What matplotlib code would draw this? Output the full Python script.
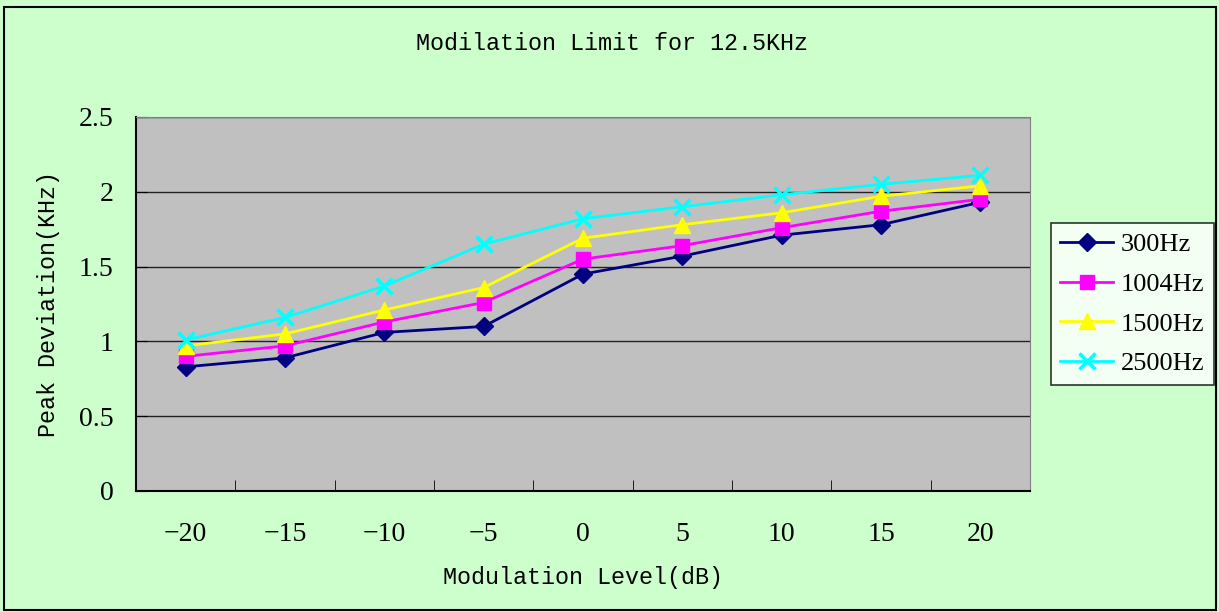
import matplotlib.pyplot as plt
from matplotlib.patches import Rectangle

levels = ["\u221220", "\u221215", "\u221210", "\u22125", "0", "5", "10", "15", "20"]
hz300 = [0.83, 0.89, 1.06, 1.10, 1.45, 1.57, 1.71, 1.78, 1.93]
hz1004 = [0.90, 0.97, 1.13, 1.26, 1.55, 1.64, 1.76, 1.87, 1.95]
hz1500 = [0.97, 1.05, 1.21, 1.36, 1.69, 1.78, 1.86, 1.97, 2.04]
hz2500 = [1.01, 1.16, 1.37, 1.65, 1.82, 1.90, 1.98, 2.05, 2.11]
yticks = [0, 0.5, 1, 1.5, 2, 2.5]

fig = plt.figure(figsize=(12.19, 6.12), dpi=100, facecolor="#CCFFCC")
fig.patches.append(Rectangle((4 / 1219, 2 / 612), 1212 / 1219, 603 / 612,
                             transform=fig.transFigure, fill=False,
                             edgecolor="black", linewidth=1.5))
ax = fig.add_axes([136 / 1219, 121 / 612, 894 / 1219, 374 / 612])
ax.set_facecolor("#C0C0C0")

x = range(len(levels))
ax.plot(x, hz300, color="#000080", marker="D", markersize=9, lw=2, label="300Hz")
ax.plot(x, hz1004, color="#FF00FF", marker="s", markersize=10, lw=2, label="1004Hz")
ax.plot(x, hz1500, color="#FFFF00", marker="^", markersize=12, lw=2, label="1500Hz")
ax.plot(x, hz2500, color="#00FFFF", marker="x", markersize=12, mew=2.5, lw=2, label="2500Hz")

ax.set_xlim(-0.5, len(levels) - 0.5)
ax.set_ylim(0, 2.5)
ax.set_yticks(yticks)
ax.set_yticklabels([("%g" % v) for v in yticks])
ax.yaxis.grid(True, color="#222222", lw=1)
ax.set_axisbelow(True)
ax.set_xticks(list(x))
ax.set_xticklabels(levels)
ax.set_xticks([i - 0.5 for i in range(len(levels) + 1)], minor=True)
ax.tick_params(axis="x", which="major", length=0, pad=22)
ax.tick_params(axis="x", which="minor", direction="in", length=8)
ax.tick_params(axis="y", direction="in", length=8, pad=16)
for lab in ax.get_xticklabels() + ax.get_yticklabels():
    lab.set_fontfamily("Liberation Serif")
    lab.set_fontsize(20)

ax.spines["top"].set_color("#808080")
ax.spines["right"].set_color("#808080")
ax.spines["left"].set_linewidth(1.5)
ax.spines["bottom"].set_linewidth(1.5)

fig.text(612 / 1219, 1 - 44 / 612, "Modilation Limit for 12.5KHz",
         ha="center", va="center", family="Liberation Mono", fontsize=16.8)
ax.set_xlabel("Modulation Level(dB)", family="Liberation Mono", fontsize=16.8, labelpad=14)
ax.set_ylabel("Peak Deviation(KHz)", family="Liberation Mono", fontsize=16.8, labelpad=14)

leg = ax.legend(loc="center left", bbox_to_anchor=(1.0235, 0.50), frameon=True,
                fancybox=False, edgecolor="black", facecolor="white",
                prop={"family": "Liberation Serif", "size": 19},
                handlelength=2.0, borderpad=0.35, labelspacing=0.62, handletextpad=0.3,
                borderaxespad=0)
leg.get_frame().set_linewidth(1.2)

fig.savefig("out.png", dpi=100, facecolor=fig.get_facecolor())
